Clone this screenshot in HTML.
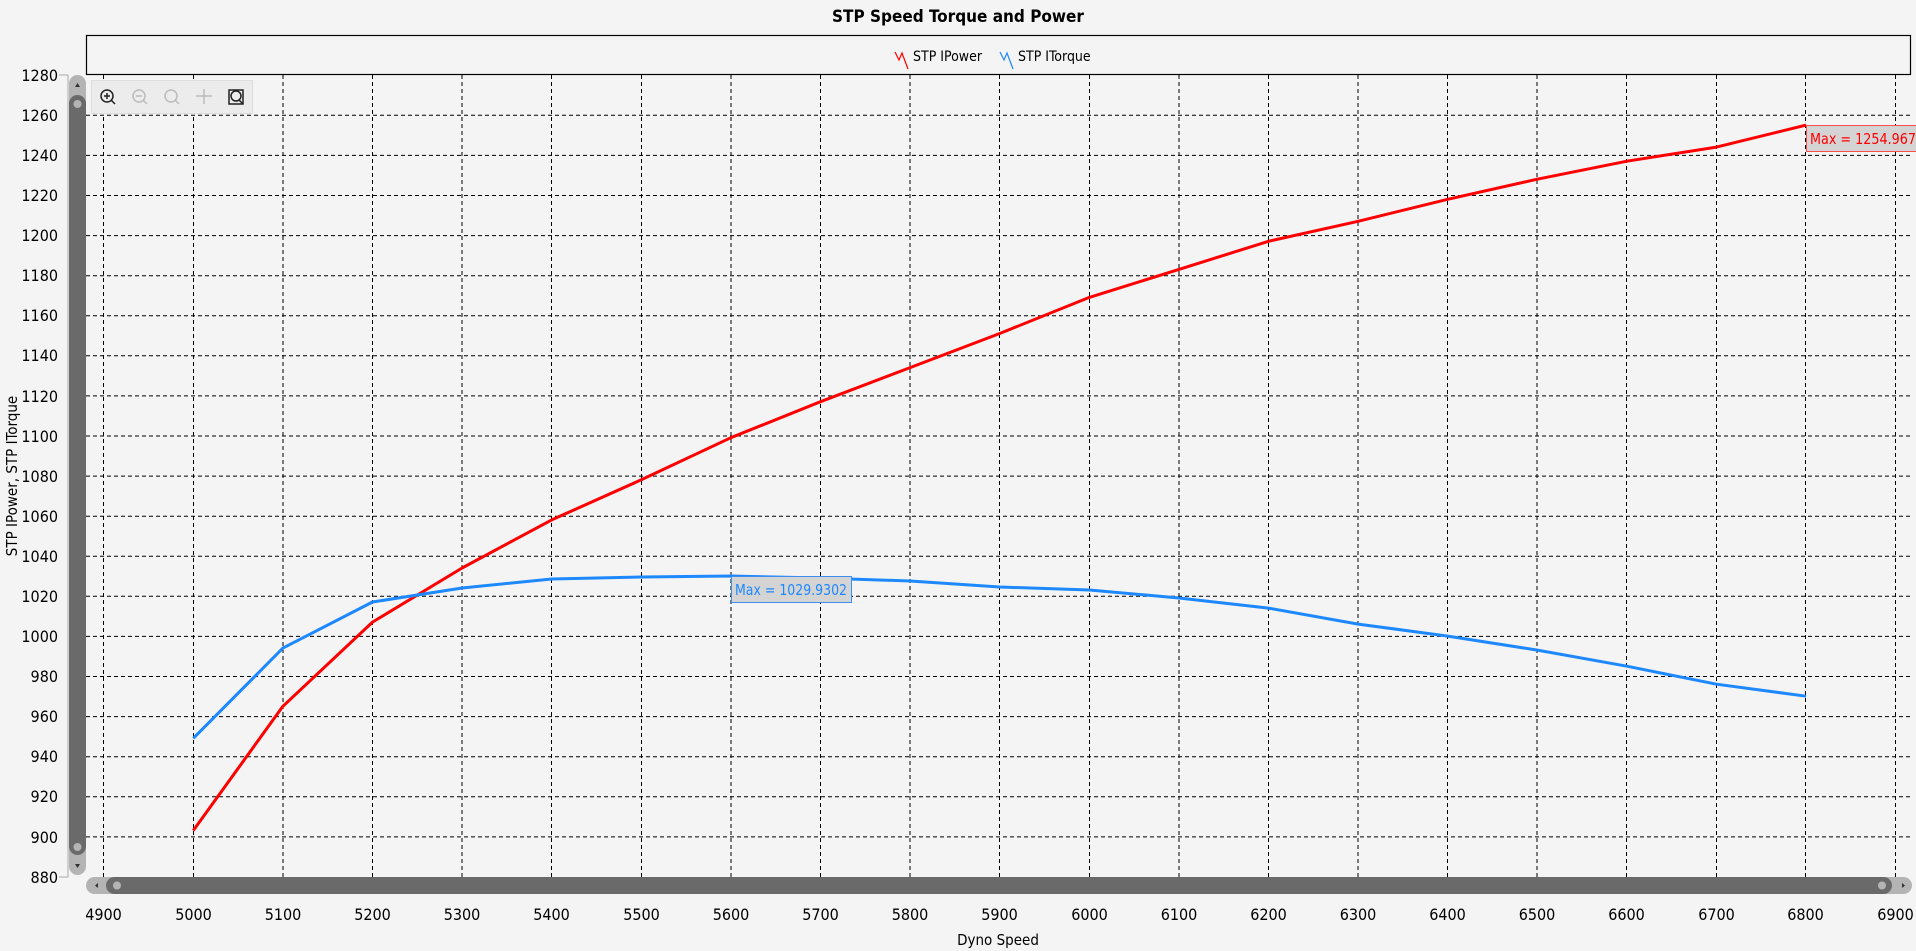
<!DOCTYPE html>
<html><head><meta charset="utf-8"><style>
html,body{margin:0;padding:0;background:#f4f4f4;}
svg{display:block;font-family:"DejaVu Sans Condensed","Liberation Sans",sans-serif;}
</style></head><body>
<svg width="1916" height="951" xmlns="http://www.w3.org/2000/svg">
<rect width="1916" height="951" fill="#f4f4f4"/>
<text x="958" y="22" font-size="17" font-weight="bold" text-anchor="middle" fill="#000">STP Speed Torque and Power</text>
<rect x="86.5" y="35.5" width="1824" height="39" fill="#f4f4f4" stroke="#000" stroke-width="1.2"/>
<polyline points="895,52 899,60 902,53 908,69" fill="none" stroke="#f00" stroke-width="1.2"/>
<text x="913" y="61" font-size="14" fill="#000">STP IPower</text>
<polyline points="1000,52 1004,60 1007,53 1013,69" fill="none" stroke="#1e88ff" stroke-width="1.2"/>
<text x="1018" y="61" font-size="14" fill="#000">STP ITorque</text>
<g stroke="#000" stroke-width="1" stroke-dasharray="4,3" fill="none">
<line x1="86" y1="115.3" x2="1912" y2="115.3"/><line x1="86" y1="155.4" x2="1912" y2="155.4"/>
<line x1="86" y1="195.5" x2="1912" y2="195.5"/><line x1="86" y1="235.6" x2="1912" y2="235.6"/>
<line x1="86" y1="275.7" x2="1912" y2="275.7"/><line x1="86" y1="315.7" x2="1912" y2="315.7"/>
<line x1="86" y1="355.8" x2="1912" y2="355.8"/><line x1="86" y1="395.9" x2="1912" y2="395.9"/>
<line x1="86" y1="436" x2="1912" y2="436"/><line x1="86" y1="476.1" x2="1912" y2="476.1"/>
<line x1="86" y1="516.2" x2="1912" y2="516.2"/><line x1="86" y1="556.3" x2="1912" y2="556.3"/>
<line x1="86" y1="596.3" x2="1912" y2="596.3"/><line x1="86" y1="636.4" x2="1912" y2="636.4"/>
<line x1="86" y1="676.5" x2="1912" y2="676.5"/><line x1="86" y1="716.6" x2="1912" y2="716.6"/>
<line x1="86" y1="756.7" x2="1912" y2="756.7"/><line x1="86" y1="796.8" x2="1912" y2="796.8"/>
<line x1="86" y1="836.9" x2="1912" y2="836.9"/>
<line x1="103.5" y1="75" x2="103.5" y2="877"/><line x1="193.5" y1="75" x2="193.5" y2="877"/>
<line x1="283" y1="75" x2="283" y2="877"/><line x1="372.5" y1="75" x2="372.5" y2="877"/>
<line x1="462" y1="75" x2="462" y2="877"/><line x1="551.5" y1="75" x2="551.5" y2="877"/>
<line x1="641.5" y1="75" x2="641.5" y2="877"/><line x1="731" y1="75" x2="731" y2="877"/>
<line x1="820.5" y1="75" x2="820.5" y2="877"/><line x1="910" y1="75" x2="910" y2="877"/>
<line x1="999.5" y1="75" x2="999.5" y2="877"/><line x1="1089.5" y1="75" x2="1089.5" y2="877"/>
<line x1="1179" y1="75" x2="1179" y2="877"/><line x1="1268.5" y1="75" x2="1268.5" y2="877"/>
<line x1="1358" y1="75" x2="1358" y2="877"/><line x1="1447.5" y1="75" x2="1447.5" y2="877"/>
<line x1="1537" y1="75" x2="1537" y2="877"/><line x1="1626.5" y1="75" x2="1626.5" y2="877"/>
<line x1="1716.5" y1="75" x2="1716.5" y2="877"/><line x1="1805.5" y1="75" x2="1805.5" y2="877"/>
<line x1="1895.5" y1="75" x2="1895.5" y2="877"/>
</g>
<line x1="68" y1="75" x2="68" y2="877" stroke="#aaa"/>
<g font-size="16" text-anchor="end" fill="#000">
<text x="58" y="81">1280</text><text x="58" y="121">1260</text><text x="58" y="161">1240</text><text x="58" y="201">1220</text>
<text x="58" y="241">1200</text><text x="58" y="281">1180</text><text x="58" y="321">1160</text><text x="58" y="361">1140</text>
<text x="58" y="402">1120</text><text x="58" y="442">1100</text><text x="58" y="482">1080</text><text x="58" y="522">1060</text>
<text x="58" y="562">1040</text><text x="58" y="602">1020</text><text x="58" y="642">1000</text><text x="58" y="682">980</text>
<text x="58" y="722">960</text><text x="58" y="762">940</text><text x="58" y="802">920</text><text x="58" y="843">900</text>
<text x="58" y="883">880</text>
</g>
<g stroke="#aaa"><line x1="59" y1="75" x2="68" y2="75"/><line x1="59" y1="877" x2="68" y2="877"/></g>
<text transform="translate(17,476) rotate(-90)" font-size="15" text-anchor="middle" fill="#000">STP IPower, STP ITorque</text>
<rect x="69" y="75" width="17" height="800" rx="8.5" fill="#b4b4b4"/>
<rect x="69" y="95" width="17" height="760" rx="8.5" fill="#6a6a6a"/>
<circle cx="77.5" cy="104" r="4" fill="#b4b4b4"/><circle cx="77.5" cy="847" r="4" fill="#b4b4b4"/>
<polygon points="75,87 80,87 77.5,83" fill="#333"/><polygon points="75,864 80,864 77.5,868" fill="#333"/>
<rect x="86" y="877" width="1826" height="17" rx="8.5" fill="#b4b4b4"/>
<rect x="106" y="877" width="1786" height="17" rx="8.5" fill="#6a6a6a"/>
<circle cx="117" cy="885.5" r="4" fill="#b4b4b4"/><circle cx="1882" cy="885.5" r="4" fill="#b4b4b4"/>
<polygon points="98,883 98,888 95,885.5" fill="#333"/><polygon points="1902,883 1902,888 1905,885.5" fill="#333"/>
<g font-size="16" text-anchor="middle" fill="#000">
<text x="103.5" y="920">4900</text><text x="193.5" y="920">5000</text><text x="283" y="920">5100</text><text x="372.5" y="920">5200</text>
<text x="462" y="920">5300</text><text x="551.5" y="920">5400</text><text x="641.5" y="920">5500</text><text x="731" y="920">5600</text>
<text x="820.5" y="920">5700</text><text x="910" y="920">5800</text><text x="999.5" y="920">5900</text><text x="1089.5" y="920">6000</text>
<text x="1179" y="920">6100</text><text x="1268.5" y="920">6200</text><text x="1358" y="920">6300</text><text x="1447.5" y="920">6400</text>
<text x="1537" y="920">6500</text><text x="1626.5" y="920">6600</text><text x="1716.5" y="920">6700</text><text x="1805.5" y="920">6800</text>
<text x="1895.5" y="920">6900</text>
</g>
<text x="998" y="945" font-size="15" text-anchor="middle" fill="#000">Dyno Speed</text>
<rect x="91.5" y="80.5" width="161" height="33" fill="#ececec" stroke="#ddd"/>
<g fill="none" stroke-width="1.5">
<circle cx="107" cy="96" r="6" stroke="#222"/><line x1="111" y1="100" x2="115" y2="104" stroke="#222"/><line x1="104" y1="96" x2="110" y2="96" stroke="#222"/><line x1="107" y1="93" x2="107" y2="99" stroke="#222"/>
<circle cx="139" cy="96" r="6" stroke="#bbb"/><line x1="143" y1="100" x2="147" y2="104" stroke="#bbb"/><line x1="136" y1="96" x2="142" y2="96" stroke="#bbb"/>
<circle cx="171" cy="96" r="6" stroke="#bbb"/><line x1="175" y1="100" x2="179" y2="104" stroke="#bbb"/>
<line x1="204" y1="89" x2="204" y2="104" stroke="#bbb"/><line x1="196" y1="96" x2="212" y2="96" stroke="#bbb"/>
<rect x="229" y="90" width="14" height="14" stroke="#222"/><circle cx="236" cy="96" r="5" stroke="#222"/><line x1="239" y1="100" x2="243" y2="104" stroke="#222"/>
</g>
<polyline fill="none" stroke="#ff0000" stroke-width="3" stroke-linejoin="round" points="193.3,830.5 282.9,706.3 372.5,622.1 462.1,568 551.7,519.9 641.3,479.8 730.9,437.7 820.5,401.7 910.1,367.6 999.7,333.5 1089.3,297.4 1178.9,269.4 1268.5,241.3 1358.1,221.3 1447.7,199.3 1537.3,179.2 1626.9,161.2 1716.5,147.1 1806.1,125.1"/>
<polyline fill="none" stroke="#1e88ff" stroke-width="3" stroke-linejoin="round" points="193.3,738.3 282.9,648.1 372.5,602 462.1,588 551.7,579 641.3,577 730.9,576 820.5,578 910.1,581 999.7,587 1089.3,590 1178.9,598 1268.5,608.1 1358.1,624.1 1447.7,636.1 1537.3,650.1 1626.9,666.2 1716.5,684.2 1806.1,696.2"/>
<rect x="1806.5" y="125.5" width="112" height="26" fill="#d4d4d4" stroke="#ff5050"/>
<text x="1810" y="144" font-size="15" fill="#ff0000" textLength="106" lengthAdjust="spacingAndGlyphs">Max = 1254.967</text>
<rect x="731.5" y="576.5" width="120" height="26" fill="#d4d4d4" stroke="#3a8ff0"/>
<text x="735" y="595" font-size="15" fill="#1e88ff" textLength="112" lengthAdjust="spacingAndGlyphs">Max = 1029.9302</text>
</svg>
</body></html>
